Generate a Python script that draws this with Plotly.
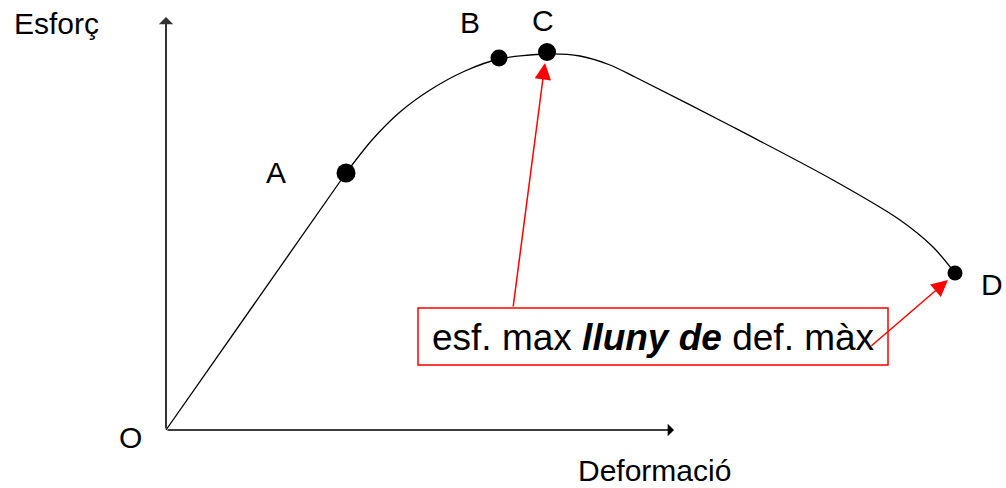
import plotly.graph_objects as go

# Curve data (deformation, stress) in chart units, origin at O
elastic_x = [0, 180]
elastic_y = [0, 257]
plastic_x = [180, 206, 234, 264, 299, 333, 381, 414, 444, 469, 567, 667, 734, 767, 789]
plastic_y = [257, 290, 318, 340, 359, 371, 376, 374, 365, 353, 303, 250, 210, 183, 157]

point_names = ["A", "B", "C", "D"]
point_x = [180, 333, 381, 789]
point_y = [257, 372, 378, 157]
point_sizes = [19, 17, 18, 15]

FONT = "Arial, Liberation Sans, sans-serif"

fig = go.Figure()
fig.add_trace(go.Scatter(x=elastic_x, y=elastic_y, mode="lines",
                         line=dict(color="black", width=1.3), hoverinfo="skip"))
fig.add_trace(go.Scatter(x=plastic_x, y=plastic_y, mode="lines",
                         line=dict(color="black", width=1.3, shape="spline", smoothing=0.8),
                         hoverinfo="skip"))
fig.add_trace(go.Scatter(x=point_x, y=point_y, mode="markers",
                         marker=dict(color="#000000", size=point_sizes, opacity=1,
                                     line=dict(width=0)),
                         hoverinfo="skip"))

ann = []
# axes with arrows
ann.append(dict(x=0, y=413, ax=0, ay=0, xref="x", yref="y", axref="x", ayref="y",
                showarrow=True, arrowhead=1, arrowsize=1.2, arrowwidth=2,
                arrowcolor="#333333", standoff=0, text=""))
ann.append(dict(x=508, y=0, ax=0, ay=0, xref="x", yref="y", axref="x", ayref="y",
                showarrow=True, arrowhead=1, arrowsize=1.4, arrowwidth=1.5,
                arrowcolor="black", standoff=0, text=""))

labels = [("Esforç", -110, 407), ("Deformació", 488, -40), ("O", -36, -7),
          ("A", 110, 258), ("B", 304, 408), ("C", 377, 410), ("D", 826, 146)]
for t, lx, ly in labels:
    ann.append(dict(x=lx, y=ly, xref="x", yref="y", text=t, showarrow=False,
                    font=dict(family=FONT, size=30, color="black")))

# box text
ann.append(dict(x=487, y=93, xref="x", yref="y",
                text="esf. max <b><i>lluny de</i></b> def. màx", showarrow=False,
                font=dict(family=FONT, size=37, color="black")))
# red arrows
ann.append(dict(x=379, y=367, ax=347, ay=122, xref="x", yref="y", axref="x", ayref="y",
                showarrow=True, arrowhead=2, arrowsize=2.2, arrowwidth=1.5,
                arrowcolor="red", standoff=0, text=""))
ann.append(dict(x=782, y=150, ax=704, ay=83, xref="x", yref="y", axref="x", ayref="y",
                showarrow=True, arrowhead=2, arrowsize=2.2, arrowwidth=1.5,
                arrowcolor="red", standoff=0, text=""))

fig.add_shape(type="rect", x0=252, x1=722, y0=65, y1=122, xref="x", yref="y",
              line=dict(color="red", width=1.5), fillcolor="white", layer="below")

fig.update_layout(
    width=1006, height=488,
    margin=dict(l=0, r=0, t=0, b=0),
    paper_bgcolor="white", plot_bgcolor="white",
    showlegend=False,
    xaxis=dict(range=[-166, 840], visible=False, fixedrange=True),
    yaxis=dict(range=[-58, 430], visible=False, fixedrange=True),
    annotations=ann,
)

fig.write_html("out.html", post_script="document.body.style.margin='0';",
               config={"displayModeBar": False})
